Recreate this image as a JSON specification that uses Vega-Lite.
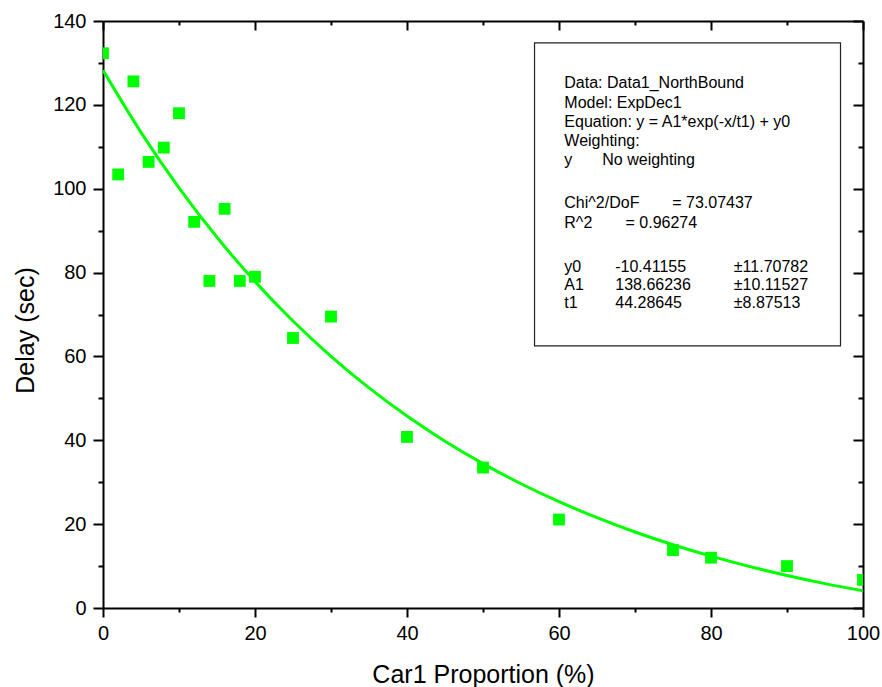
{
  "$schema": "https://vega.github.io/schema/vega-lite/v6.json",
  "width": 760,
  "height": 587,
  "autosize": "none",
  "padding": {"left": 103, "top": 21, "right": 19, "bottom": 79},
  "background": "white",
  "config": {
    "view": {"stroke": null},
    "font": "Liberation Sans",
    "axis": {
      "grid": false,
      "domainColor": "black",
      "tickColor": "black",
      "labelColor": "black",
      "titleColor": "black",
      "domainWidth": 2,
      "tickWidth": 2,
      "labelFont": "Liberation Sans",
      "titleFont": "Liberation Sans",
      "labelFontSize": 20,
      "titleFontSize": 25,
      "titleFontWeight": "normal",
      "labelFlush": false,
      "labelOverlap": false
    }
  },
  "datasets": {
    "pts": [
      {"x": 0, "y": 132.3}, {"x": 2, "y": 103.4}, {"x": 4, "y": 125.6}, {"x": 6, "y": 106.4},
      {"x": 8, "y": 109.8}, {"x": 10, "y": 118}, {"x": 12, "y": 92.1}, {"x": 14, "y": 78},
      {"x": 16, "y": 95.2}, {"x": 18, "y": 78}, {"x": 20, "y": 79}, {"x": 25, "y": 64.4},
      {"x": 30, "y": 69.5}, {"x": 40, "y": 40.8}, {"x": 50, "y": 33.5}, {"x": 60, "y": 21.1},
      {"x": 75, "y": 13.8}, {"x": 80, "y": 12}, {"x": 90, "y": 10}, {"x": 100, "y": 6.7}
    ],
    "fit": [
      {"x": 0, "y": 128.251}, {"x": 5, "y": 113.447}, {"x": 10, "y": 100.223}, {"x": 15, "y": 88.412},
      {"x": 20, "y": 77.861}, {"x": 25, "y": 68.437}, {"x": 30, "y": 60.019}, {"x": 35, "y": 52.500},
      {"x": 40, "y": 45.783}, {"x": 45, "y": 39.784}, {"x": 50, "y": 34.425}, {"x": 55, "y": 29.638},
      {"x": 60, "y": 25.362}, {"x": 65, "y": 21.543}, {"x": 70, "y": 18.132}, {"x": 75, "y": 15.084},
      {"x": 80, "y": 12.362}, {"x": 85, "y": 9.931}, {"x": 90, "y": 7.759}, {"x": 95, "y": 5.819},
      {"x": 100, "y": 4.087}
    ],
    "box": [{"bx0": 56.78, "bx1": 97.04, "by0": 62.5, "by1": 134.8}],
    "notes": [
      {"tx": 60.7, "ty": 125.28, "label": "Data: Data1_NorthBound"},
      {"tx": 60.7, "ty": 120.51, "label": "Model: ExpDec1"},
      {"tx": 60.7, "ty": 115.98, "label": "Equation: y = A1*exp(-x/t1) + y0"},
      {"tx": 60.7, "ty": 111.45, "label": "Weighting:"},
      {"tx": 60.7, "ty": 106.84, "label": "y"},
      {"tx": 65.7, "ty": 106.84, "label": "No weighting"},
      {"tx": 60.7, "ty": 96.52, "label": "Chi^2/DoF"},
      {"tx": 74.9, "ty": 96.52, "label": "= 73.07437"},
      {"tx": 60.7, "ty": 91.75, "label": "R^2"},
      {"tx": 68.75, "ty": 91.75, "label": "=  0.96274"},
      {"tx": 60.7, "ty": 81.4, "label": "y0"},
      {"tx": 67.4, "ty": 81.4, "label": "-10.41155"},
      {"tx": 83.0, "ty": 81.4, "label": "±11.70782"},
      {"tx": 60.7, "ty": 77.03, "label": "A1"},
      {"tx": 67.4, "ty": 77.03, "label": "138.66236"},
      {"tx": 83.0, "ty": 77.03, "label": "±10.11527"},
      {"tx": 60.7, "ty": 72.67, "label": "t1"},
      {"tx": 67.4, "ty": 72.67, "label": "44.28645"},
      {"tx": 83.0, "ty": 72.67, "label": "±8.87513"}
    ]
  },
  "resolve": {"axis": {"x": "independent", "y": "independent"}},
  "layer": [
    {
      "data": {"name": "box"},
      "mark": {"type": "rect", "fill": "white", "stroke": "#222222", "strokeWidth": 1.2},
      "encoding": {
        "x": {"field": "bx0", "type": "quantitative", "scale": {"domain": [0, 100], "nice": false, "zero": false},
              "axis": {"orient": "bottom", "values": [10, 30, 50, 70, 90], "tickSize": 4, "labels": false, "domain": false, "title": null}},
        "x2": {"field": "bx1"},
        "y": {"field": "by0", "type": "quantitative", "scale": {"domain": [0, 140], "nice": false, "zero": false},
              "axis": {"orient": "left", "values": [10, 30, 50, 70, 90, 110, 130], "tickSize": 5, "labels": false, "domain": false, "title": null}},
        "y2": {"field": "by1"}
      }
    },
    {
      "data": {"name": "notes"},
      "mark": {"type": "text", "align": "left", "baseline": "middle", "fontSize": 16, "font": "Liberation Sans", "color": "black"},
      "encoding": {
        "x": {"field": "tx", "type": "quantitative", "scale": {"domain": [0, 100], "nice": false, "zero": false},
              "axis": {"orient": "top", "values": [10, 30, 50, 70, 90], "tickSize": -4, "labels": false, "domain": false, "title": null}},
        "y": {"field": "ty", "type": "quantitative", "scale": {"domain": [0, 140], "nice": false, "zero": false},
              "axis": {"orient": "right", "values": [10, 30, 50, 70, 90, 110, 130], "tickSize": -5, "labels": false, "domain": false, "title": null}},
        "text": {"field": "label", "type": "nominal"}
      }
    },
    {
      "data": {"name": "fit"},
      "mark": {"type": "line", "color": "#00FF00", "strokeWidth": 3, "interpolate": "monotone", "clip": true},
      "encoding": {
        "x": {"field": "x", "type": "quantitative", "scale": {"domain": [0, 100], "nice": false, "zero": false},
              "axis": {"orient": "bottom", "values": [0, 20, 40, 60, 80, 100], "tickSize": 9, "labelPadding": 6,
                       "title": "Car1 Proportion (%)", "titleBaseline": "alphabetic", "titleY": 74}},
        "y": {"field": "y", "type": "quantitative", "scale": {"domain": [0, 140], "nice": false, "zero": false},
              "axis": {"orient": "left", "values": [0, 20, 40, 60, 80, 100, 120, 140], "tickSize": 10, "labelPadding": 7,
                       "title": "Delay (sec)", "titleX": -78, "titleY": 309, "titleBaseline": "middle", "titleAlign": "center", "titleAngle": -90}}
      }
    },
    {
      "data": {"name": "pts"},
      "mark": {"type": "point", "shape": "square", "filled": true, "size": 140, "color": "#00FF00", "opacity": 1, "clip": true},
      "encoding": {
        "x": {"field": "x", "type": "quantitative", "scale": {"domain": [0, 100], "nice": false, "zero": false},
              "axis": {"orient": "top", "values": [0, 20, 40, 60, 80, 100], "tickSize": -9, "labels": false, "title": null}},
        "y": {"field": "y", "type": "quantitative", "scale": {"domain": [0, 140], "nice": false, "zero": false},
              "axis": {"orient": "right", "values": [0, 20, 40, 60, 80, 100, 120, 140], "tickSize": -10, "labels": false, "title": null}}
      }
    }
  ]
}
